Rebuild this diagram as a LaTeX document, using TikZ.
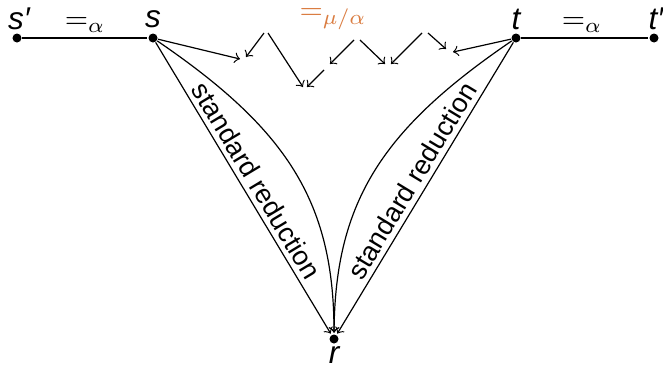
\documentclass[tikz,border=0pt]{standalone}
\usepackage{fontspec}
\setmainfont{Liberation Sans}
\definecolor{lblorange}{RGB}{218,125,66}
\begin{document}
\begin{tikzpicture}[x=0.3333pt,y=-0.3333pt,
  dot/.style={circle,fill=black,inner sep=0pt,minimum size=3pt},
  lbl/.style={font=\fontsize{10.5}{12}\selectfont\itshape,inner sep=0pt},
  red/.style={->,line width=0.4pt},
  txt/.style={font=\fontsize{9}{11}\selectfont,sloped,above,inner sep=1.6pt},
  shorten >=0.4pt]
\useasboundingbox (0,0) rectangle (663,365);
% points
\node[dot] (sp) at (17,38) {};
\node[dot] (s) at (153,38) {};
\node[dot] (t) at (516,38) {};
\node[dot] (tp) at (654,38) {};
\node[dot] (r) at (334,339) {};
% labels
\node[lbl] (lsp) at (19,19) {s′};
\node[lbl] (ls) at (153,19) {s};
\node[lbl] (lt) at (516,19) {t};
\node[lbl] (ltp) at (656,19) {t′};
\node[lbl] (lr) at (334,355) {r};
\node[inner sep=0pt,font=\fontsize{10}{12}\selectfont] (ea1) at (85,25) {$=_\alpha$};
\node[inner sep=0pt,font=\fontsize{10}{12}\selectfont] (ea2) at (582,25) {$=_\alpha$};
\node[inner sep=0pt,font=\fontsize{10}{12}\selectfont,text=lblorange] (emu) at (333,19) {$=_{\mu/\alpha}$};
% horizontal lines
\draw (sp) -- (s);
\draw (t) -- (tp);
% zigzag coordinates
\coordinate (v1) at (240,59);
\coordinate (p1a) at (264,33);
\coordinate (v1b) at (246,57);
\coordinate (p1b) at (268,33);
\coordinate (v2) at (303,87);
\coordinate (m2) at (324,70);
\coordinate (v2b) at (307,87);
\coordinate (p2a) at (354,40);
\coordinate (m2b) at (330,64);
\coordinate (p2b) at (360,40);
\coordinate (v3) at (385,64);
\coordinate (p3a) at (422,33);
\coordinate (v3b) at (391,64);
\coordinate (p3b) at (428,33);
\coordinate (v4) at (446,49);
\coordinate (v4b) at (453,52);
\begin{scope}[shorten >=0pt]
\draw[red] (s) -- (v1);
\draw[red] (p1a) -- (v1b);
\draw[red] (p1b) -- (v2);
\draw[red] (m2) -- (v2b);
\draw[red] (p2a) -- (m2b);
\draw[red] (p2b) -- (v3);
\draw[red] (p3a) -- (v3b);
\draw[red] (p3b) -- (v4);
\draw[red] (t) -- (v4b);
\end{scope}
% standard reductions
\draw[red] (s) -- node[txt,pos=0.5] {standard reduction} (r);
\draw[red] (s) .. controls (285,128) and (334,200) .. (r);
\draw[red,<-,shorten <=0.4pt,shorten >=0pt] (r) -- node[txt,pos=0.5] {standard reduction} (t);
\draw[red] (t) .. controls (384,128) and (335,200) .. (r);
\end{tikzpicture}
\end{document}
